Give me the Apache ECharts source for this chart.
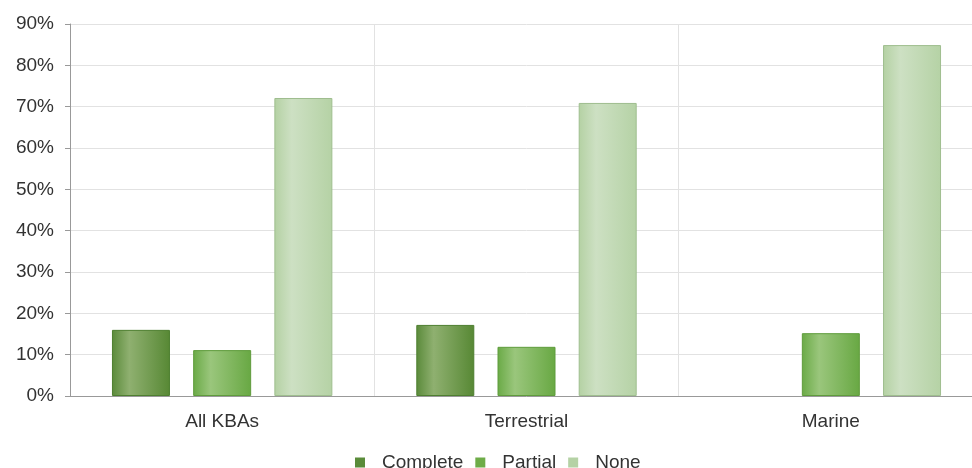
<!DOCTYPE html>
<html>
<head>
<meta charset="utf-8">
<script src="https://cdn.jsdelivr.net/npm/echarts@6/dist/echarts.min.js"></script>
<style>
  html, body { margin: 0; padding: 0; background: #fff; overflow: hidden; }
  /* the plot runs a little past the right edge of the window in the original */
  #chart { width: 983px; height: 468px; }
</style>
</head>
<body>
<div id="chart"></div>
<script>
// categories and values (percent)
const categories = ["All KBAs", "Terrestrial", "Marine"];
const complete = [16.0, 17.2, null];
const partial = [11.1, 11.9, 15.2];
const none = [72.1, 70.9, 84.9];

function shade(edge, light, right) {
  return new echarts.graphic.LinearGradient(0, 0, 1, 0, [
    { offset: 0, color: edge },
    { offset: 0.3, color: light },
    { offset: 1, color: right }
  ]);
}

let mychart = echarts.init(document.getElementById("chart"));
const font = "Liberation Sans, Arial, sans-serif";

let option = {
  animation: false,
  grid: { left: 70, top: 24, bottom: 72, right: 0 },
  legend: {
    top: 448,
    left: 350,
    icon: "rect",
    itemWidth: 10,
    itemHeight: 10,
    itemGap: 12,
    textStyle: { fontSize: 19, color: "#333", fontFamily: font, padding: [0, 0, 0, 12] },
    data: [
      { name: "Complete", itemStyle: { color: "#5a8c3a", borderWidth: 0 } },
      { name: "Partial", itemStyle: { color: "#6eac48", borderWidth: 0 } },
      { name: "None", itemStyle: { color: "#b5d2a5", borderWidth: 0 } }
    ]
  },
  xAxis: {
    type: "category",
    data: categories,
    axisLine: { lineStyle: { color: "#999", width: 1 } },
    axisTick: { length: 6, lineStyle: { color: "#999" } },
    splitLine: { show: true, lineStyle: { color: "#e2e2e2" } },
    axisLabel: { fontSize: 19, color: "#333", fontFamily: font, margin: 16 }
  },
  yAxis: {
    type: "value",
    min: 0,
    max: 90,
    interval: 10,
    axisLine: { show: true, lineStyle: { color: "#999" } },
    axisTick: { show: true, length: 5, lineStyle: { color: "#999" } },
    splitLine: { lineStyle: { color: "#e2e2e2" } },
    axisLabel: { formatter: "{value}%", fontSize: 19, color: "#333", fontFamily: font, margin: 16 }
  },
  series: [
    {
      name: "Complete",
      type: "bar",
      data: complete,
      barWidth: 58,
      barGap: "40%",
      itemStyle: { color: shade("#5a8a3a", "#8fb070", "#578834"), borderColor: "#4e7f30", borderWidth: 1 }
    },
    {
      name: "Partial",
      type: "bar",
      data: partial,
      barWidth: 58,
      barGap: "40%",
      itemStyle: { color: shade("#6aaa46", "#9ac67c", "#68a843"), borderColor: "#5f9c3c", borderWidth: 1 }
    },
    {
      name: "None",
      type: "bar",
      data: none,
      barWidth: 58,
      barGap: "40%",
      itemStyle: { color: shade("#b4d1a3", "#cde0c3", "#b5d2a5"), borderColor: "#9fbe8f", borderWidth: 1 }
    }
  ]
};
mychart.setOption(option);
</script>
</body>
</html>
